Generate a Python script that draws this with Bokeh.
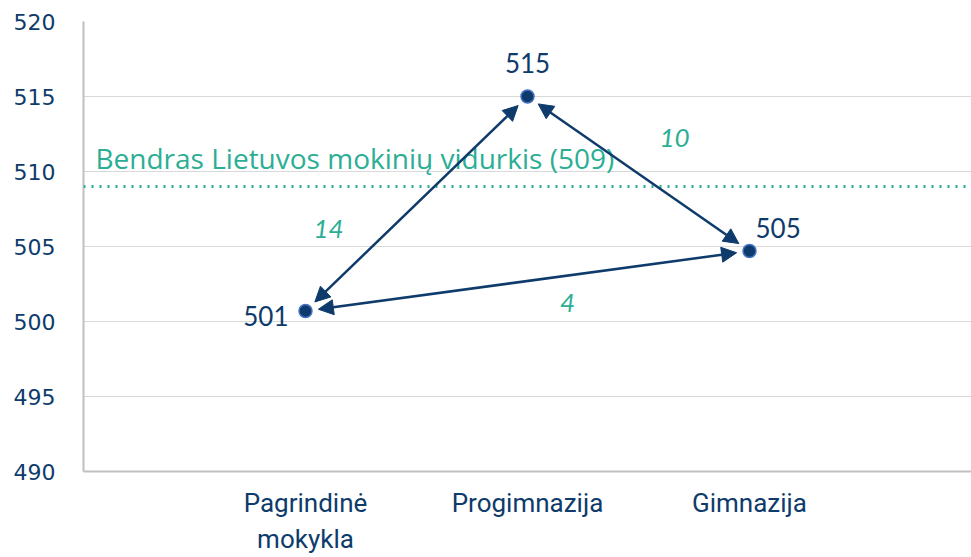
from bokeh.plotting import figure
from bokeh.models import (Arrow, NormalHead, Label, Span, FixedTicker, ColumnDataSource, Range1d)
from bokeh.embed import file_html
from bokeh.resources import INLINE

# ---- data ----
categories = ["Pagrindinė\nmokykla", "Progimnazija", "Gimnazija"]
scores = [500.7, 515.0, 504.7]
score_labels = ["501", "515", "505"]
national_avg = 509
avg_label = "Bendras Lietuvos mokinių vidurkis (509)"
pairs = [(0, 1), (1, 2), (2, 0)]
diff_labels = ["14", "10", "4"]
y_ticks = [490, 495, 500, 505, 510, 515, 520]

NAVY = "#0E3B6B"
TEAL = "#2BAE94"
GRID = "#D9D9D9"
AXIS = "#BFBFBF"

W, H = 971, 557
BL, BT, BB, BR = 83, 21, 86, 0
fw, fh = W - BL - BR, H - BT - BB
x_end = fw / 222.0
x_range = Range1d(0, x_end)
y_range = Range1d(490, 520)
pxu_x = fw / x_end
pxu_y = fh / 30.0

p = figure(width=W, height=H, output_backend="svg", toolbar_location=None,
           x_range=x_range, y_range=y_range,
           min_border_left=BL, min_border_top=BT, min_border_bottom=BB, min_border_right=BR)
p.outline_line_color = None
p.background_fill_color = "white"
p.border_fill_color = "white"

xs = [i + 1 for i in range(len(categories))]

# axes
p.xaxis.ticker = FixedTicker(ticks=xs)
p.xaxis.major_label_overrides = {x: c for x, c in zip(xs, categories)}
p.yaxis.ticker = FixedTicker(ticks=y_ticks)
for ax in (p.xaxis[0], p.yaxis[0]):
    ax.axis_line_color = AXIS
    ax.axis_line_width = 2
    ax.major_tick_line_color = None
    ax.minor_tick_line_color = None
    ax.major_label_text_color = NAVY
p.xaxis.major_label_text_font = "Roboto"
p.xaxis.major_label_text_font_size = "26px"
p.xaxis.major_label_standoff = 10
p.yaxis.major_label_text_font = "DejaVu Sans"
p.yaxis.major_label_text_font_size = "22px"
p.yaxis.major_label_standoff = 22
p.xgrid.grid_line_color = None
p.ygrid.grid_line_color = GRID
p.ygrid.grid_line_width = 1

# national average
p.add_layout(Span(location=national_avg, dimension="width", line_color=TEAL,
                  line_width=3, line_dash="2 6"))
p.add_layout(Label(x=0, y=national_avg, x_offset=12, y_offset=29, text=avg_label,
                   text_color=TEAL, text_font="Open Sans",
                   text_font_size="28px", text_baseline="alphabetic"))

# arrows
gap = 13
for (a, b), dl, off in zip(pairs, diff_labels, [(-88, 25), (36, -36), (40, 22)]):
    x0, y0, x1, y1 = xs[a], scores[a], xs[b], scores[b]
    dxp, dyp = (x1 - x0) * pxu_x, (y1 - y0) * pxu_y
    L = (dxp ** 2 + dyp ** 2) ** 0.5
    fx, fy = dxp / L * gap / pxu_x, dyp / L * gap / pxu_y
    p.add_layout(Arrow(x_start=x0 + fx, y_start=y0 + fy, x_end=x1 - fx, y_end=y1 - fy,
                       line_color=NAVY, line_width=2.5,
                       start=NormalHead(size=15, fill_color=NAVY, line_color=NAVY, line_width=1),
                       end=NormalHead(size=15, fill_color=NAVY, line_color=NAVY, line_width=1)))
    p.add_layout(Label(x=(x0 + x1) / 2, y=(y0 + y1) / 2, x_offset=off[0], y_offset=-off[1],
                       text=dl, text_color=TEAL, text_font="Lato",
                       text_font_style="italic", text_font_size="26px",
                       text_align="center", text_baseline="middle"))

# points
src = ColumnDataSource(dict(x=xs, y=scores, lab=score_labels))
p.scatter("x", "y", source=src, size=13, fill_color=NAVY, line_color="#4472C4", line_width=1.5)

for x, y, lab, (dx, dy, al) in zip(xs, scores, score_labels,
                                  [(-17, -5, "right"), (0, 34, "center"), (6, 23, "left")]):
    p.add_layout(Label(x=x, y=y, x_offset=dx, y_offset=dy, text=lab, text_color=NAVY,
                       text_font="Lato", text_font_size="26px",
                       text_align=al, text_baseline="middle"))

open("out.html", "w").write(file_html(p, INLINE))
